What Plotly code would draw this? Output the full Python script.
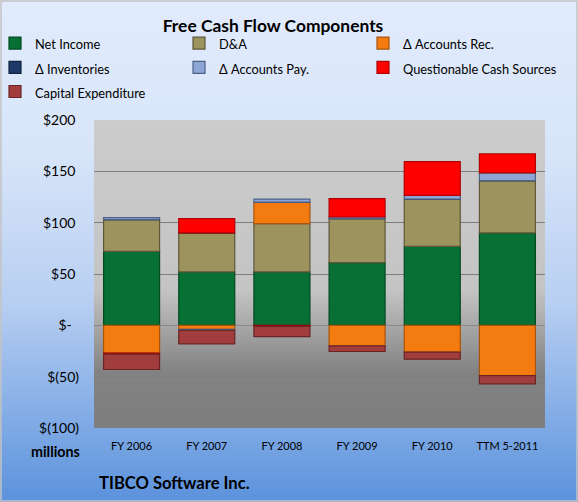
import base64
import plotly.graph_objects as go

categories = ["FY 2006", "FY 2007", "FY 2008", "FY 2009", "FY 2010", "TTM 5-2011"]
net_income = [72, 52, 52, 61, 77, 90]
d_and_a = [31, 38, 47, 43, 46, 51]
accounts_rec = [-27, -4, 21, -20, -26, -49]
inventories = [0, 0, 0, 0, 0, 0]
accounts_pay = [2, -1, 3, 1.5, 3.5, 7.5]
questionable = [-1, 14, -1, 18, 33, 18.5]
capex = [-15, -13, -10, -5.5, -7, -8]

tick_vals = [200, 150, 100, 50, 0, -50, -100]
tick_text = ["$200\u00a0", "$150\u00a0", "$100\u00a0", "$50\u00a0", "$-\u00a0\u00a0", "$(50)", "$(100)"]

# name, values, fill, edge, legend column
series = [
    ("Net Income", net_income, "#067035", "#034a22", "legend"),
    ("D&A", d_and_a, "#9c935e", "#5e5838", "legend2"),
    ("\u0394 Accounts Rec.", accounts_rec, "#f47b10", "#a8540a", "legend3"),
    ("\u0394 Inventories", inventories, "#1f3a68", "#122340", "legend"),
    ("\u0394 Accounts Pay.", accounts_pay, "#8ea6d6", "#4d6286", "legend2"),
    ("Questionable Cash Sources", questionable, "#ff0000", "#b00000", "legend3"),
    ("Capital Expenditure", capex, "#a23d3d", "#6a2424", "legend"),
]

W, H = 578, 502
L, R, T, B = 94, 33, 120, 74
pw, ph = W - L - R, H - T - B

FONT = "Lato"

fig = go.Figure()
for name, vals, col, edge, leg in series:
    fig.add_trace(go.Bar(
        x=categories, y=vals,
        name=f'<span style="font-size:12.8px">{name}</span>',
        legend=leg,
        marker=dict(color=col, line=dict(color=edge, width=1.2)),
    ))


def svg_uri(stops, w=10, h=100):
    st = "".join(f'<stop offset="{o}" stop-color="{c}"/>' for o, c in stops)
    svg = (f'<svg xmlns="http://www.w3.org/2000/svg" width="{w}" height="{h}" preserveAspectRatio="none">'
           f'<defs><linearGradient id="g" x1="0" y1="0" x2="0" y2="1">{st}</linearGradient></defs>'
           f'<rect width="{w}" height="{h}" fill="url(#g)"/></svg>')
    return "data:image/svg+xml;base64," + base64.b64encode(svg.encode()).decode()


paper_grad = svg_uri([(0, "#e1ebfc"), (0.3, "#d8e5f9"), (0.6, "#b8cff2"), (1, "#5b92dc")])
plot_grad = svg_uri([(0, "#cccccc"), (0.55, "#c4c4c4"), (0.82, "#828282"), (1, "#7e7e7e")])

fx0, fx1 = -L / pw, (W - L) / pw
fy0, fy1 = -B / ph, (H - B) / ph


def legend_at(text_x, top_px):
    return dict(orientation="v", x=(text_x - 40 - L) / pw, xanchor="left",
                y=(H - B - top_px) / ph, yanchor="top", bgcolor="rgba(0,0,0,0)",
                borderwidth=0, font=dict(size=16.3, family=FONT), traceorder="normal")


LEG_TOP = 26
fig.update_layout(
    width=W, height=H,
    margin=dict(l=L, r=R, t=T, b=B, autoexpand=False),
    barmode="relative",
    bargap=0.255,
    paper_bgcolor="#c9dbf6",
    plot_bgcolor="rgba(0,0,0,0)",
    font=dict(family=FONT, size=12, color="#000000"),
    title=dict(text="<b>Free Cash Flow Components</b>", xref="container", x=273 / W,
               xanchor="center", y=1 - 26 / H, yanchor="middle",
               font=dict(size=17.4, family=FONT)),
    legend=legend_at(35, LEG_TOP),
    legend2=legend_at(219, LEG_TOP),
    legend3=legend_at(403, LEG_TOP),
    images=[
        dict(source=paper_grad, xref="paper", yref="paper", x=fx0, y=fy1,
             sizex=fx1 - fx0, sizey=fy1 - fy0, sizing="stretch", layer="below"),
        dict(source=plot_grad, xref="paper", yref="paper", x=0, y=1,
             sizex=1, sizey=1, sizing="stretch", layer="below"),
    ],
    shapes=[
        dict(type="rect", xref="paper", yref="paper", x0=fx0 + 1 / pw, x1=fx1 - 1 / pw,
             y0=fy0 + 1 / ph, y1=fy1 - 1 / ph, line=dict(color="#c4c4c4", width=1.5)),
    ],
    annotations=[
        dict(text="<b>millions</b>", xref="paper", yref="paper", x=(55 - L) / pw,
             y=(H - B - 451) / ph, xanchor="center", yanchor="middle", showarrow=False,
             font=dict(size=14.3, family=FONT)),
        dict(text="<b>TIBCO Software Inc.</b>", xref="paper", yref="paper", x=(97 - L) / pw,
             y=(H - B - 483) / ph, xanchor="left", yanchor="middle", showarrow=False,
             font=dict(size=16.6, family=FONT)),
    ],
)

fig.update_yaxes(range=[-100, 200], tickvals=tick_vals, ticktext=tick_text,
                 showgrid=True, gridcolor="#7d7d7d", gridwidth=1,
                 zeroline=True, zerolinecolor="#8a8a8a", zerolinewidth=1,
                 ticks="", ticklabelstandoff=14, tickfont=dict(size=14, family=FONT),
                 showline=False)
fig.update_xaxes(showgrid=False, ticks="", tickfont=dict(size=11, family=FONT),
                 ticklabelstandoff=10, showline=False)

fig.write_html("out.html")
